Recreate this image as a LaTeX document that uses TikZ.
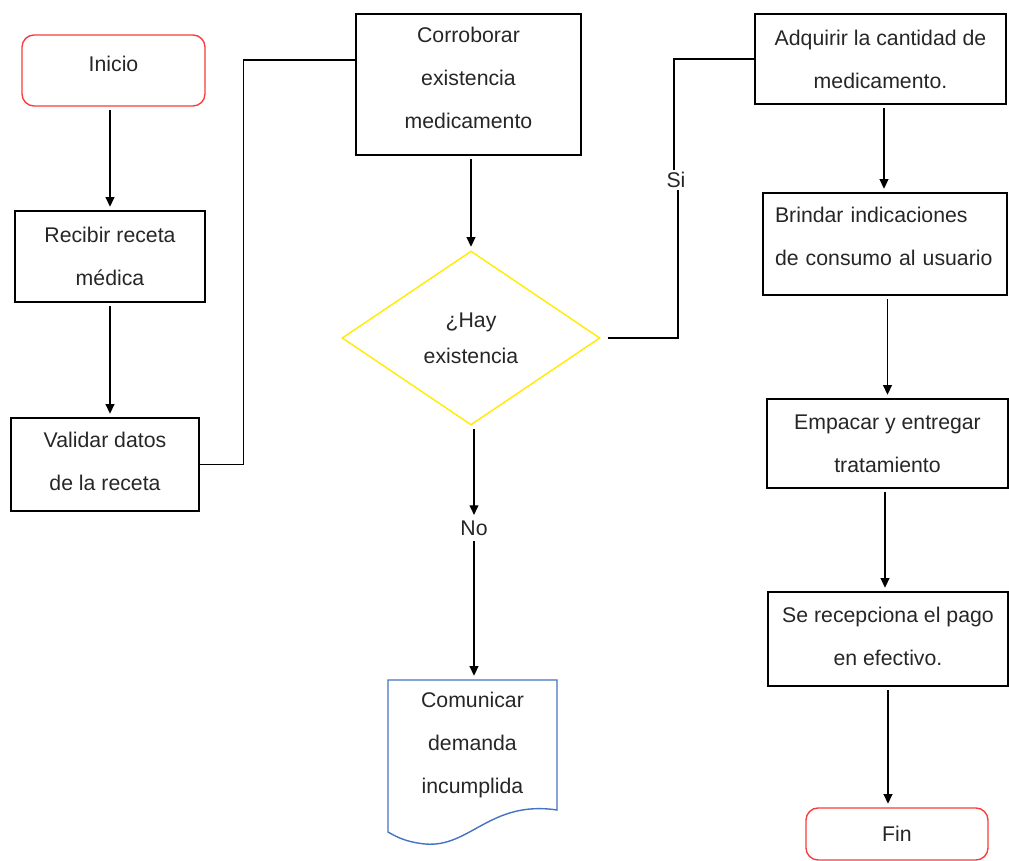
\documentclass[tikz,border=0pt]{standalone}
\usepackage{fontspec}
\setmainfont{Liberation Sans}
\usetikzlibrary{shapes.geometric,arrows.meta}
\definecolor{rojo}{RGB}{250,60,60}
\definecolor{amarillo}{RGB}{255,236,0}
\definecolor{azul}{RGB}{68,114,196}
\tikzset{
	caja/.style={draw, line width=0.8pt, align=center, inner sep=0pt, text=black!85, font=\fontsize{12.1}{24.5}\selectfont},
	terminal/.style={caja, draw=rojo, rounded corners=0.24cm},
	decision/.style={caja, draw=amarillo, shape=diamond, font=\fontsize{12.1}{20.5}\selectfont},
	etiqueta/.style={inner sep=1pt, text=black!85, font=\fontsize{12.1}{14}\selectfont},
	documento/.style={draw=azul, line width=0.8pt},
	flecha/.style={-{Triangle[length=5.5pt,width=5pt]}, line width=0.8pt, shorten <=2pt, shorten >=2pt},
	linea/.style={line width=0.8pt}
}
\begin{document}
\begin{tikzpicture}[x=0.02cm,y=-0.02cm]
				\useasboundingbox (0,0) rectangle (1009,861);
				\node[terminal, minimum width=3.66cm, minimum height=1.42cm] (inicio) at (113.5,70.5) {Inicio\\[-0.6cm]\mbox{}};
				\node[caja, minimum width=3.8cm, minimum height=1.82cm] (recibir) at (110,256.5) {Recibir receta\\médica};
				\node[caja, minimum width=3.76cm, minimum height=1.86cm] (validar) at (105,464.5) {Validar datos\\de la receta\\[-0.72cm]\mbox{}};
				\node[caja, minimum width=4.5cm, minimum height=2.82cm] (corroborar) at (468.5,84.5) {Corroborar\\existencia\\medicamento\\[-0.58cm]\mbox{}};
				\node[decision, minimum width=5.16cm, minimum height=3.48cm] (hay) at (471,338) {¿Hay\\existencia};
				\node[etiqueta] (no) at (474,528) {No};
				\node[etiqueta] (si) at (676,180) {Si};
				\node[caja, draw=none, minimum width=3.38cm, minimum height=2.6cm] (comunicar) at (472.5,745) {Comunicar\\demanda\\incumplida};
				\draw[documento] (388,680) -- (557,680) -- (557,810) .. controls (490,800) and (470,848) .. (425,844) .. controls (405,842) and (395,836) .. (388,832) -- cycle;
				\node[caja, minimum width=5.02cm, minimum height=1.8cm] (adquirir) at (880.5,59) {Adquirir la cantidad de\\medicamento.};
				\node[caja, align=left, text width=4.4cm, minimum width=4.88cm, minimum height=2.04cm] (brindar) at (885,244) {Brindar indicaciones\\de consumo al usuario\\[-0.56cm]\mbox{}};
				\node[caja, minimum width=4.82cm, minimum height=1.78cm] (empacar) at (887.5,443.5) {Empacar y entregar\\tratamiento};
				\node[caja, minimum width=4.8cm, minimum height=1.88cm] (recepciona) at (888,639) {Se recepciona el pago\\en efectivo.\\[-0.76cm]\mbox{}};
				\node[terminal, minimum width=3.64cm, minimum height=1.04cm] (fin) at (897,834) {Fin};
				\draw[flecha] (inicio.south -| recibir) -- (recibir.north);
				\draw[flecha] (recibir.south) -- (recibir.south |- validar.north);
				\draw[linea] (validar.east) -- ++(44,0) |- ([yshift=0.49cm]corroborar.west);
				\draw[flecha] (corroborar.south -| hay.north) -- (hay.north);
				\draw[flecha] (hay.south -| no) -- (no.north);
				\draw[flecha] (no.south) -- (no.south |- comunicar.north);
				\draw[linea, shorten <=4pt] (hay.east) -| (si.south -| 678,0);
				\draw[linea] (si.north -| 674,0) |- (adquirir.west);
				\draw[flecha] (adquirir.south -| 884,0) -- (brindar.north -| 884,0);
				\draw[flecha] (brindar.south -| empacar) -- (empacar.north);
				\draw[flecha] (empacar.south -| 885,0) -- (recepciona.north -| 885,0);
				\draw[flecha] (recepciona.south) -- (recepciona.south |- fin.north);
			\end{tikzpicture}
\end{document}
